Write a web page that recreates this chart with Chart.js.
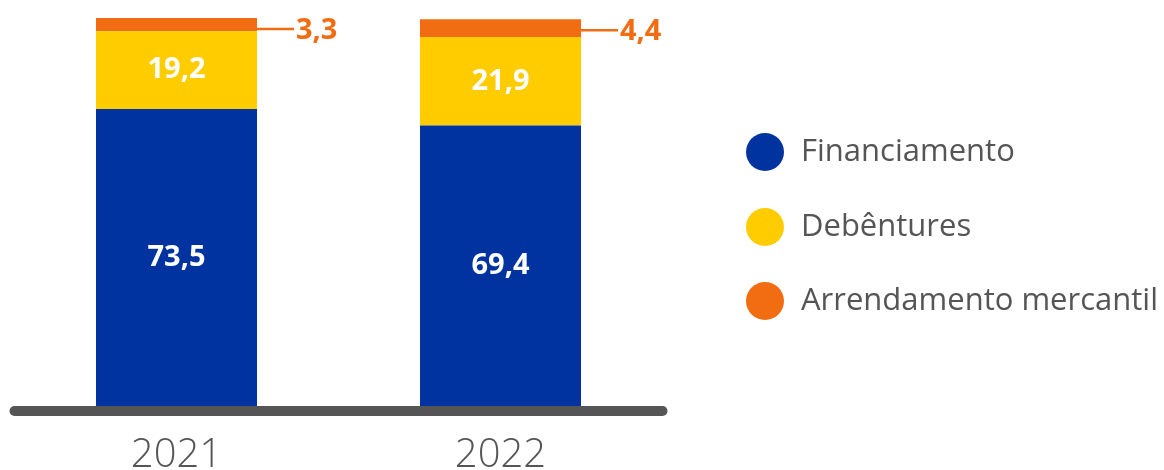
<!DOCTYPE html>
<html><head><meta charset="utf-8">
<script src="https://cdn.jsdelivr.net/npm/chart.js@4"></script>
<style>html,body{margin:0;padding:0;background:#fff;}#wrap{width:1164px;height:470px;position:relative;}</style>
</head><body><div id="wrap"><canvas id="c" width="1164" height="470"></canvas></div>
<script>
const categories = ['2021', '2022'];
const financiamento = [73.5, 69.4];
const debentures = [19.2, 21.9];
const arrendamento = [3.3, 4.4];
const seriesNames = ['Financiamento', 'Debêntures', 'Arrendamento mercantil'];
const colors = ['#0033A0', '#FFCC00', '#F26C12'];

function fmt(v){ return v.toFixed(1).replace('.', ','); }

const overlay = {
  id: 'overlay',
  afterDatasetsDraw(chart){
    const ctx = chart.ctx, ca = chart.chartArea;
    const xs = chart.scales.x;
    ctx.save();
    // baseline
    ctx.strokeStyle = '#555555'; ctx.lineWidth = 10; ctx.lineCap = 'round';
    ctx.beginPath(); ctx.moveTo(ca.left, ca.bottom + 5); ctx.lineTo(ca.right, ca.bottom + 5); ctx.stroke();
    // category labels
    ctx.fillStyle = '#555555'; ctx.font = '300 40px "Open Sans"'; ctx.textAlign = 'center'; ctx.textBaseline = 'middle';
    categories.forEach((c, i) => ctx.fillText(c, xs.getPixelForValue(i), 456));
    // value labels
    chart.data.datasets.forEach((ds, di) => {
      const meta = chart.getDatasetMeta(di);
      meta.data.forEach((bar, i) => {
        const v = ds.data[i];
        const yc = (bar.y + bar.base) / 2;
        if (di < 2) {
          ctx.fillStyle = '#ffffff'; ctx.font = 'bold 29px "Open Sans"';
          ctx.textAlign = 'center'; ctx.textBaseline = 'middle';
          ctx.fillText(fmt(v), bar.x, yc);
        } else {
          const right = bar.x + bar.width / 2;
          const ly = bar.y + 11;
          ctx.strokeStyle = colors[2]; ctx.lineWidth = 2.5; ctx.lineCap = 'butt';
          ctx.beginPath(); ctx.moveTo(right, ly); ctx.lineTo(right + 37, ly); ctx.stroke();
          ctx.fillStyle = colors[2]; ctx.font = 'bold 29px "Open Sans"';
          ctx.textAlign = 'left'; ctx.textBaseline = 'middle';
          ctx.fillText(fmt(v), right + 39, ly + 2);
        }
      });
    });
    // legend
    const ly = [152, 227, 301];
    seriesNames.forEach((n, i) => {
      ctx.fillStyle = colors[i];
      ctx.beginPath(); ctx.arc(765, ly[i], 19, 0, Math.PI * 2); ctx.fill();
      ctx.fillStyle = '#555555'; ctx.font = '31px "Open Sans"';
      ctx.textAlign = 'left'; ctx.textBaseline = 'middle';
      ctx.fillText(n, 801, ly[i]);
    });
    ctx.restore();
  }
};

new Chart(document.getElementById('c'), {
  type: 'bar',
  data: {
    labels: categories,
    datasets: [
      { label: seriesNames[0], data: financiamento, backgroundColor: colors[0] },
      { label: seriesNames[1], data: debentures, backgroundColor: colors[1] },
      { label: seriesNames[2], data: arrendamento, backgroundColor: colors[2] }
    ]
  },
  options: {
    responsive: false, animation: false, devicePixelRatio: 1,
    layout: { padding: { left: 14.5, right: 501.5, top: 18, bottom: 64 } },
    datasets: { bar: { barPercentage: 0.497, categoryPercentage: 1, borderWidth: 0 } },
    scales: {
      x: { stacked: true, display: false },
      y: { stacked: true, display: false, min: 0, max: 96 }
    },
    plugins: { legend: { display: false }, tooltip: { enabled: false } }
  },
  plugins: [overlay]
});
</script></body></html>
